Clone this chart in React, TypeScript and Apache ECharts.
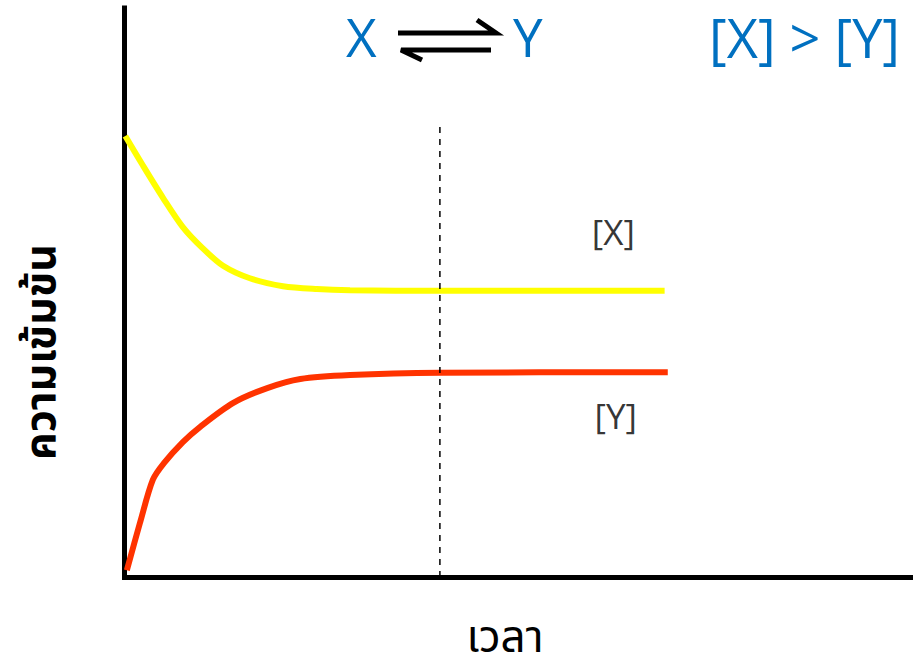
import React, { useEffect, useRef } from "react";
import * as echarts from "echarts";

// Concentration of X (reactant) over time
const xConcTime = [0.01, 0.23, 0.49, 0.74, 0.99, 1.25, 1.59, 2.01, 2.44, 2.86, 4.01, 6.85];
const xConc = [7.75, 7.24, 6.66, 6.15, 5.78, 5.47, 5.25, 5.11, 5.06, 5.04, 5.03, 5.03];

// Concentration of Y (product) over time
const yConcTime = [0.03, 0.2, 0.36, 0.5, 0.74, 0.96, 1.38, 1.81, 2.23, 2.86, 4.01, 6.89];
const yConc = [0.12, 0.97, 1.71, 2.0, 2.37, 2.64, 3.06, 3.32, 3.48, 3.55, 3.59, 3.6];

// Moment when equilibrium is reached
const equilibriumTime = 4;
const equilibriumMarkTop = 7.91;

// Curve labels
const curveLabels = ["[X]", "[Y]"];
const curveLabelPos = [
  [6.2, 6.07],
  [6.23, 2.83],
];

const xAxisTitle = "เวลา";
const yAxisTitle = "ความเข้มข้น";
const reactionLeft = "X";
const reactionRight = "Y";
const comparison = "[X] > [Y]";

const FONT = "'Open Sans', 'Noto Sans', 'Noto Sans Thai', sans-serif";
const BLUE = "#0070C0";

export default function App() {
  const ref = useRef<HTMLDivElement>(null);

  useEffect(() => {
    if (!ref.current) return;
    const chart = echarts.init(ref.current, undefined, { renderer: "svg" });

    const pair = (xs: number[], ys: number[]) => xs.map((x, i) => [x, ys[i]]);

    chart.setOption({
      animation: false,
      backgroundColor: "#ffffff",
      grid: {
        left: 124.5,
        right: 0,
        top: 8,
        bottom: 82,
        containLabel: false,
        outerBoundsMode: "none",
      },
      xAxis: {
        type: "value",
        min: 0,
        max: 10,
        axisLine: { show: true, lineStyle: { color: "#000", width: 5, cap: "square" } },
        axisTick: { show: false },
        axisLabel: { show: false },
        splitLine: { show: false },
      },
      yAxis: {
        type: "value",
        min: 0,
        max: 10,
        axisLine: { show: true, lineStyle: { color: "#000", width: 5, cap: "square" } },
        axisTick: { show: false },
        axisLabel: { show: false },
        splitLine: { show: false },
      },
      series: [
        {
          type: "line",
          data: pair(xConcTime, xConc),
          smooth: 0.3,
          showSymbol: false,
          lineStyle: { color: "#FFFF00", width: 6 },
          z: 3,
        },
        {
          type: "line",
          data: pair(yConcTime, yConc),
          smooth: 0.3,
          showSymbol: false,
          lineStyle: { color: "#FF3300", width: 6 },
          z: 3,
        },
        {
          type: "line",
          data: [
            [equilibriumTime, 0],
            [equilibriumTime, equilibriumMarkTop],
          ],
          showSymbol: false,
          lineStyle: { color: "#000", width: 1.5, type: [6, 6] },
          z: 4,
        },
        {
          type: "scatter",
          symbolSize: 0,
          data: curveLabelPos.map((p, i) => ({ value: p, name: curveLabels[i] })),
          label: {
            show: true,
            position: "inside",
            formatter: (p: any) => p.name,
            fontFamily: FONT,
            fontSize: 35,
            color: "#000",
          },
        },
      ],
      graphic: [
        // axis titles
        {
          type: "text",
          x: 505,
          y: 635,
          style: {
            text: xAxisTitle,
            font: `44px ${FONT}`,
            lineHeight: 44,
            fill: "#000",
            align: "center",
            verticalAlign: "middle",
          },
        },
        {
          type: "text",
          x: 38,
          y: 352,
          rotation: Math.PI / 2,
          style: {
            text: yAxisTitle,
            font: `bold 43px ${FONT}`,
            fill: "#000",
            align: "center",
            verticalAlign: "middle",
          },
        },
        // reaction header
        {
          type: "text",
          left: 346,
          top: 10,
          style: { text: reactionLeft, font: `53px ${FONT}`, fill: BLUE },
        },
        {
          type: "text",
          left: 513,
          top: 10,
          style: { text: reactionRight, font: `53px ${FONT}`, fill: BLUE },
        },
        {
          type: "text",
          right: 13,
          top: 9,
          style: { text: comparison, font: `54px ${FONT}`, lineHeight: 56, fill: BLUE },
        },
        // equilibrium double-harpoon
        {
          type: "polyline",
          shape: { points: [[398, 33], [496, 33], [477, 20]] },
          style: { stroke: "#000", lineWidth: 5, fill: null },
        },
        {
          type: "polyline",
          shape: { points: [[491, 50], [401, 50], [422, 60]] },
          style: { stroke: "#000", lineWidth: 5, fill: null },
        },
      ],
    });

    return () => chart.dispose();
  }, []);

  return (
    <div
      ref={ref}
      style={{ position: "fixed", left: 0, top: 0, width: 913, height: 659 }}
    />
  );
}
